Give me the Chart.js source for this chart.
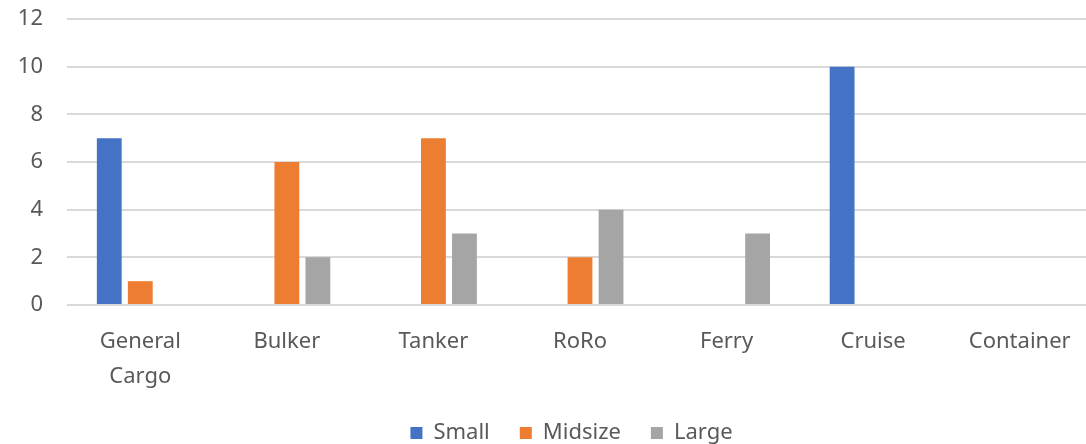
<!DOCTYPE html>
<html>
<head>
<meta charset="utf-8">
<script src="https://cdn.jsdelivr.net/npm/chart.js@4/dist/chart.umd.min.js"></script>
<style>
html, body { margin: 0; padding: 0; background: #fff; overflow: hidden; }
#wrap { width: 1132px; height: 444px; }
</style>
</head>
<body>
<div id="wrap"><canvas id="myChart" width="1132" height="444"></canvas></div>
<script>
var categories = [['General', 'Cargo'], 'Bulker', 'Tanker', 'RoRo', 'Ferry', 'Cruise', 'Container'];
var seriesNames = ['Small', 'Midsize', 'Large'];
var smallValues = [7, 0, 0, 0, 0, 10, 0];
var midsizeValues = [1, 6, 7, 2, 0, 0, 0];
var largeValues = [0, 2, 3, 4, 3, 0, 0];
var yTicks = [0, 2, 4, 6, 8, 10, 12];

var textColor = '#595959';
var gridColor = '#d9d9d9';
var fontFamily = '"Noto Sans", "Open Sans", sans-serif';

// nudge the legend to where it sits in the original
var legendShift = {
    id: 'legendShift',
    afterLayout: function (chart) {
        var lg = chart.legend;
        lg.top -= 8;
        lg.bottom -= 8;
        lg.left += 25;
        lg.right += 25;
    }
};

var ctx = document.getElementById('myChart').getContext('2d');

var myChart = new Chart(ctx, {
    type: 'bar',
    data: {
        labels: categories,
        datasets: [{
            label: seriesNames[0],
            data: smallValues,
            backgroundColor: '#4472C4'
        }, {
            label: seriesNames[1],
            data: midsizeValues,
            backgroundColor: '#ED7D31'
        }, {
            label: seriesNames[2],
            data: largeValues,
            backgroundColor: '#A5A5A5'
        }]
    },
    plugins: [legendShift],
    options: {
        responsive: false,
        animation: false,
        layout: {
            padding: { top: 19, right: 39, left: 0, bottom: -18 }
        },
        datasets: {
            bar: {
                barPercentage: 0.8,
                categoryPercentage: 0.635
            }
        },
        plugins: {
            tooltip: { enabled: false },
            legend: {
                position: 'bottom',
                labels: {
                    boxWidth: 12,
                    boxHeight: 12,
                    padding: 30,
                    color: textColor,
                    font: { family: fontFamily, size: 22 }
                }
            }
        },
        scales: {
            x: {
                grid: { display: false },
                border: { display: false },
                ticks: {
                    color: textColor,
                    padding: 11,
                    maxRotation: 0,
                    autoSkip: false,
                    font: { family: fontFamily, size: 22, lineHeight: 1.6 }
                },
                afterFit: function (scale) {
                    scale.height = 95;
                }
            },
            y: {
                min: 0,
                max: 12,
                afterBuildTicks: function (scale) {
                    scale.ticks = yTicks.map(function (v) { return { value: v }; });
                },
                grid: {
                    color: gridColor,
                    lineWidth: 2,
                    drawTicks: true,
                    tickLength: 19,
                    tickColor: 'rgba(0,0,0,0)'
                },
                border: { display: false },
                ticks: {
                    color: textColor,
                    padding: 5,
                    font: { family: fontFamily, size: 22 }
                },
                afterFit: function (scale) {
                    scale.width = 67;
                }
            }
        }
    }
});
</script>
</body>
</html>
